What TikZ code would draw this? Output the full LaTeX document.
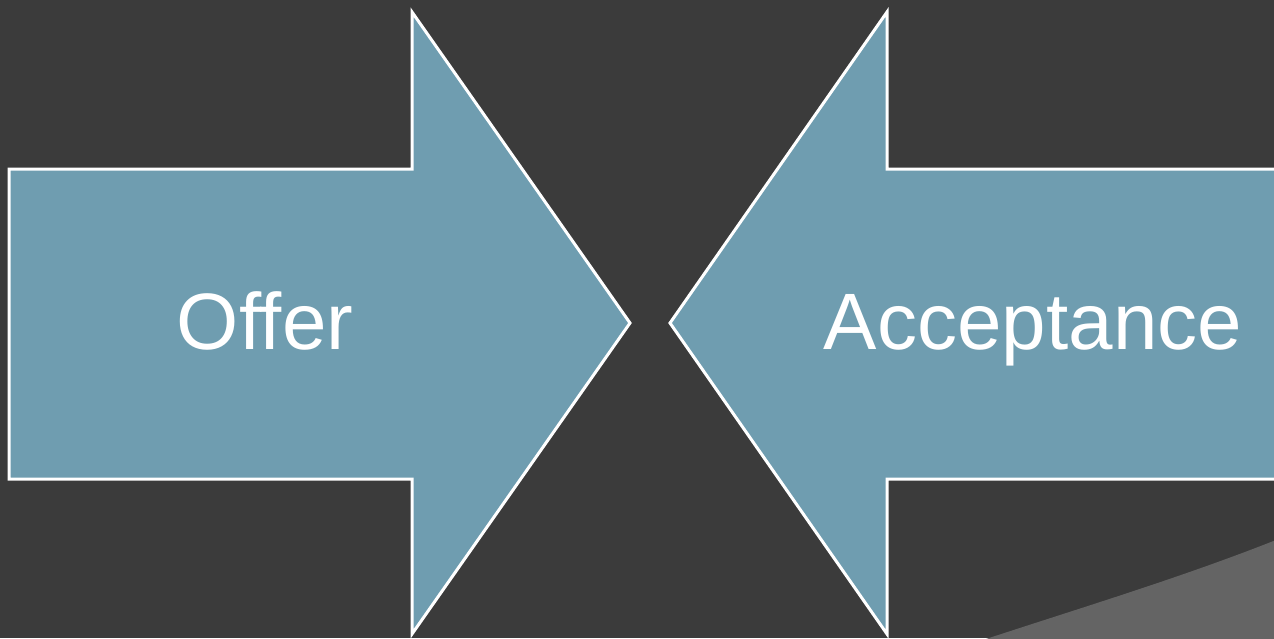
\documentclass[tikz,border=0pt]{standalone}
\usepackage{fontspec}
\setmainfont{Liberation Sans}
\usepackage{xcolor}
\usetikzlibrary{positioning}

\definecolor{slide}{HTML}{3B3B3B}
\definecolor{swoosh}{HTML}{646464}
\definecolor{teal}{HTML}{6F9DB0}

\begin{document}
\begin{tikzpicture}[
  x=0.5pt, y=-0.5pt,
  bigarrow/.style={fill=teal, draw=white, line width=1.5pt, line join=miter},
  label/.style={text=white, font=\fontsize{40}{48}\selectfont, inner sep=0pt,
                anchor=base},
  ]
  %% Background and the lighter swoosh in the corner
  \fill[slide] (0,0) rectangle (1274,638);
  \useasboundingbox (0,0) rectangle (1274,638);
  \fill[swoosh] (983,640) .. controls (1080,608) and (1180,578) .. (1276,540)
        -- (1276,640) -- cycle;

  %% Left arrow pointing right
  \draw[bigarrow] (9,169) -- (412,169) -- (412,12) -- (630,323)
        -- (412,634) -- (412,479) -- (9,479) -- cycle;
  %% Right arrow pointing left, tail runs off the edge
  \draw[bigarrow] (1290,169) -- (887,169) -- (887,12) -- (670,323)
        -- (887,634) -- (887,479) -- (1290,479) -- cycle;

  %% Labels
  \node[label] (offer)  at (265,349) {Offer};
  \node[label] (accept) at (1033,349) {Acceptance};
\end{tikzpicture}
\end{document}
